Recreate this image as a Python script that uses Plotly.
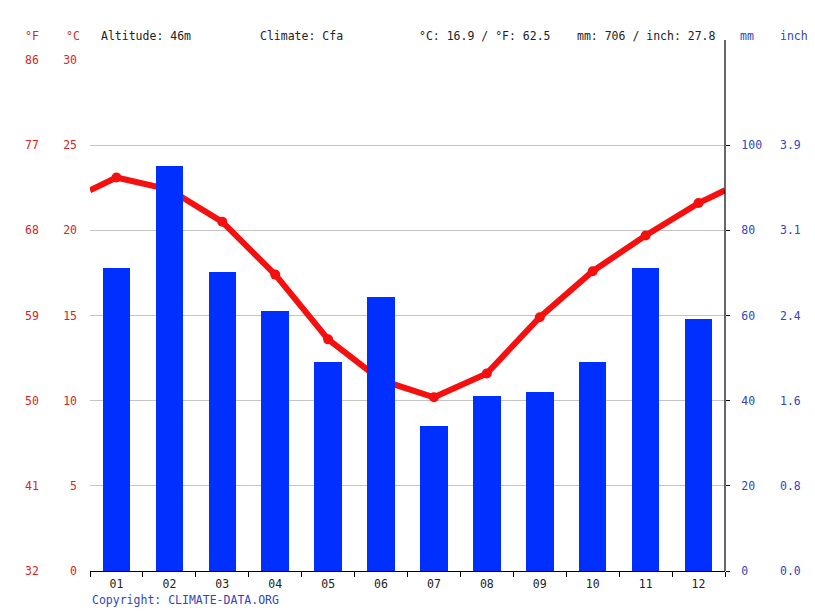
import plotly.graph_objects as go

months = ["01", "02", "03", "04", "05", "06", "07", "08", "09", "10", "11", "12"]
precip_mm = [71.1, 95.1, 70.2, 61.0, 49.1, 64.3, 34.0, 41.1, 42.0, 49.1, 71.1, 59.2]
temp_c = [23.1, 22.4, 20.5, 17.4, 13.6, 11.2, 10.2, 11.6, 14.9, 17.6, 19.7, 21.6]
edge_temp = 22.35  # where the line meets the plot edges

c_ticks = [0, 5, 10, 15, 20, 25, 30]
f_labels = ["32", "41", "50", "59", "68", "77", "86"]
mm_ticks = [0, 20, 40, 60, 80, 100]
inch_labels = ["0.0", "0.8", "1.6", "2.4", "3.1", "3.9"]

FONT = "DejaVu Sans Mono"
FS = 11.5
RED_TXT = "#d02828"
BLUE_TXT = "#3347b8"

W, H = 815, 611
L, R, T, B = 90, 90, 60, 40
pw, ph = W - L - R, H - T - B


def px_x(p):
    return (p - L) / pw


def px_y(p):
    return (H - B - p) / ph


xs = list(range(len(months)))

fig = go.Figure()
fig.add_trace(go.Bar(x=xs, y=precip_mm, yaxis="y2", width=0.52,
                     marker=dict(color="#0030ff", line=dict(width=0)),
                     hoverinfo="skip"))
fig.add_trace(go.Scatter(x=[-0.5] + xs + [len(months) - 0.5],
                         y=[edge_temp] + temp_c + [edge_temp],
                         mode="lines", line=dict(color="#f50f0f", width=6),
                         hoverinfo="skip"))
fig.add_trace(go.Scatter(x=xs, y=temp_c, mode="markers",
                         marker=dict(color="#f50f0f", size=10),
                         hoverinfo="skip"))

ann = []
for v, lab in zip(c_ticks, f_labels):
    ann.append(dict(x=px_x(23), y=v, xref="paper", yref="y", text=lab,
                    showarrow=False, xanchor="left", yanchor="middle",
                    font=dict(family=FONT, size=FS, color=RED_TXT)))
for v, lab in zip(mm_ticks, inch_labels):
    ann.append(dict(x=px_x(778), y=v, xref="paper", yref="y2", text=lab,
                    showarrow=False, xanchor="left", yanchor="middle",
                    font=dict(family=FONT, size=FS, color=BLUE_TXT)))

hy = px_y(36)
headers = [
    (23, "°F", RED_TXT), (64, "°C", RED_TXT),
    (99, "Altitude: 46m", "#222222"), (258, "Climate: Cfa", "#222222"),
    (417, "°C: 16.9 / °F: 62.5", "#222222"),
    (575, "mm: 706 / inch: 27.8", "#222222"),
    (738, "mm", BLUE_TXT), (778, "inch", BLUE_TXT),
]
for xp, t, col in headers:
    ann.append(dict(x=px_x(xp), y=hy, xref="paper", yref="paper", text=t,
                    showarrow=False, xanchor="left", yanchor="middle",
                    font=dict(family=FONT, size=FS, color=col)))
ann.append(dict(x=0, y=px_y(600), xref="paper", yref="paper",
                text="Copyright: CLIMATE-DATA.ORG", showarrow=False,
                xanchor="left", yanchor="middle",
                font=dict(family=FONT, size=FS, color=BLUE_TXT)))

fig.update_layout(
    width=W, height=H,
    margin=dict(l=L, r=R, t=T, b=B, pad=0),
    paper_bgcolor="white", plot_bgcolor="white",
    showlegend=False, bargap=0,
    font=dict(family=FONT, size=FS, color="#222222"),
    xaxis=dict(range=[-0.5, len(months) - 0.5], tickvals=xs, ticktext=months,
               showgrid=False, zeroline=False, showline=True, linecolor="black",
               linewidth=1, ticks="", ticklabelstandoff=2,
               tickfont=dict(family=FONT, size=FS, color="#222222"),
               minor=dict(tick0=-0.5, dtick=1, ticks="outside", ticklen=5,
                          tickcolor="black", tickwidth=1, showgrid=False)),
    yaxis=dict(range=[0, 30], tickvals=c_ticks, showgrid=True,
               gridcolor="#c4c4c4", gridwidth=1, zeroline=False,
               showline=False, ticks="", ticklabelstandoff=12,
               tickfont=dict(family=FONT, size=FS, color=RED_TXT)),
    yaxis2=dict(range=[0, 120], tickvals=mm_ticks, overlaying="y",
                side="right", showgrid=False, zeroline=False, showline=False,
                ticks="outside", ticklen=4, tickcolor="black",
                ticklabelstandoff=9,
                tickfont=dict(family=FONT, size=FS, color=BLUE_TXT)),
    annotations=ann,
    shapes=[dict(type="line", xref="paper", yref="paper", x0=1, x1=1,
                 y0=0, y1=px_y(40), line=dict(color="black", width=1.2))],
)

fig.write_html("out.html")
